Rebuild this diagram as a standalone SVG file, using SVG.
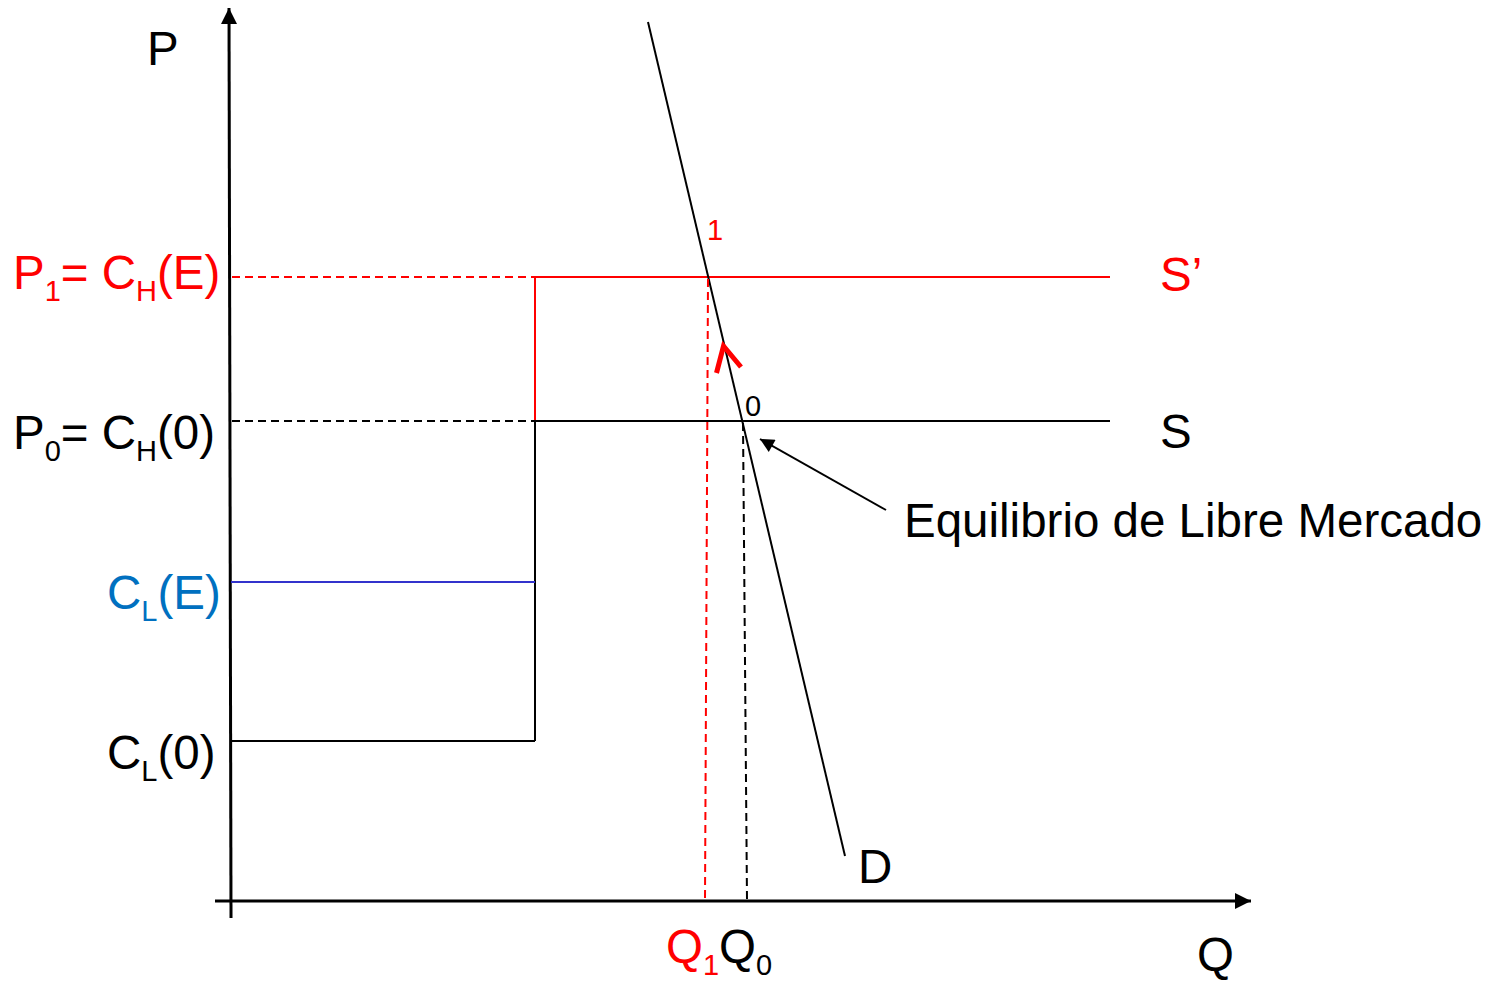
<svg xmlns="http://www.w3.org/2000/svg" width="1501" height="982" viewBox="0 0 1501 982">
<style>
text{font-family:"Liberation Sans",Arial,sans-serif;font-size:47.5px}
.sub{font-size:29px}
.red{fill:#ff0000}
.blue{fill:#0070c0}
.ln{fill:none;stroke:#000;stroke-width:2}
.rl{fill:none;stroke:#ff0000;stroke-width:2}
.dash{stroke-dasharray:8,5}
</style>
<defs>
<marker id="ax" viewBox="0 0 10 10" refX="10" refY="5" markerWidth="18" markerHeight="16" markerUnits="userSpaceOnUse" orient="auto"><path d="M0,0L10,5L0,10z" fill="#000"/></marker>
<marker id="ann" viewBox="0 0 10 10" refX="10" refY="5" markerWidth="16" markerHeight="14" markerUnits="userSpaceOnUse" orient="auto"><path d="M0,0L10,5L0,10z" fill="#000"/></marker>
</defs>
<g id="connectors">
<line class="ln" x1="231" y1="918" x2="229" y2="8" marker-end="url(#ax)" style="stroke-width:3"/>
<line class="ln" x1="215" y1="901" x2="1251" y2="901" marker-end="url(#ax)" style="stroke-width:3"/>
<line class="rl dash" x1="232" y1="277" x2="535" y2="277"/>
<line class="rl" x1="535" y1="277" x2="1110" y2="277"/>
<line class="rl" x1="535" y1="277" x2="535" y2="421"/>
<line class="ln dash" x1="232" y1="421" x2="535" y2="421"/>
<line class="ln" x1="535" y1="421" x2="1110" y2="421"/>
<line class="ln" x1="535" y1="421" x2="535" y2="741"/>
<line x1="231" y1="582" x2="535" y2="582" stroke="#3333cc" stroke-width="2"/>
<line class="ln" x1="231" y1="741" x2="535" y2="741"/>
<line class="ln" x1="648" y1="22" x2="845" y2="856"/>
<line class="rl dash" x1="708" y1="279" x2="705" y2="900"/>
<line class="ln dash" x1="743" y1="423" x2="747" y2="900"/>
<polyline points="716.5,373 723.5,346 741,367" fill="none" stroke="#ff0000" stroke-width="5"/>
<line class="ln" x1="886" y1="510" x2="760" y2="439" marker-end="url(#ann)"/>
</g>
<g id="labels">
<text x="147" y="65">P</text>
<text x="707" y="240" class="red sub">1</text>
<text x="745" y="416" class="sub">0</text>
<text x="1160" y="291" class="red">S’</text>
<text x="1160" y="448">S</text>
<text x="858" y="883">D</text>
<text x="1197" y="971">Q</text>
<text x="904" y="537">Equilibrio de Libre Mercado</text>
<text x="13" y="289" class="red">P<tspan class="sub" dy="12">1</tspan><tspan dy="-12">= C</tspan><tspan class="sub" dy="12">H</tspan><tspan dy="-12">(E)</tspan></text>
<text x="13" y="449">P<tspan class="sub" dy="12">0</tspan><tspan dy="-12">= C</tspan><tspan class="sub" dy="12">H</tspan><tspan dy="-12">(0)</tspan></text>
<text x="107" y="609" class="blue">C<tspan class="sub" dy="12">L</tspan><tspan dy="-12">(E)</tspan></text>
<text x="107" y="769">C<tspan class="sub" dy="12">L</tspan><tspan dy="-12">(0)</tspan></text>
<text x="666" y="963"><tspan class="red">Q</tspan><tspan class="sub red" dy="12">1</tspan><tspan dy="-12">Q</tspan><tspan class="sub" dy="12">0</tspan></text>
</g>
</svg>
